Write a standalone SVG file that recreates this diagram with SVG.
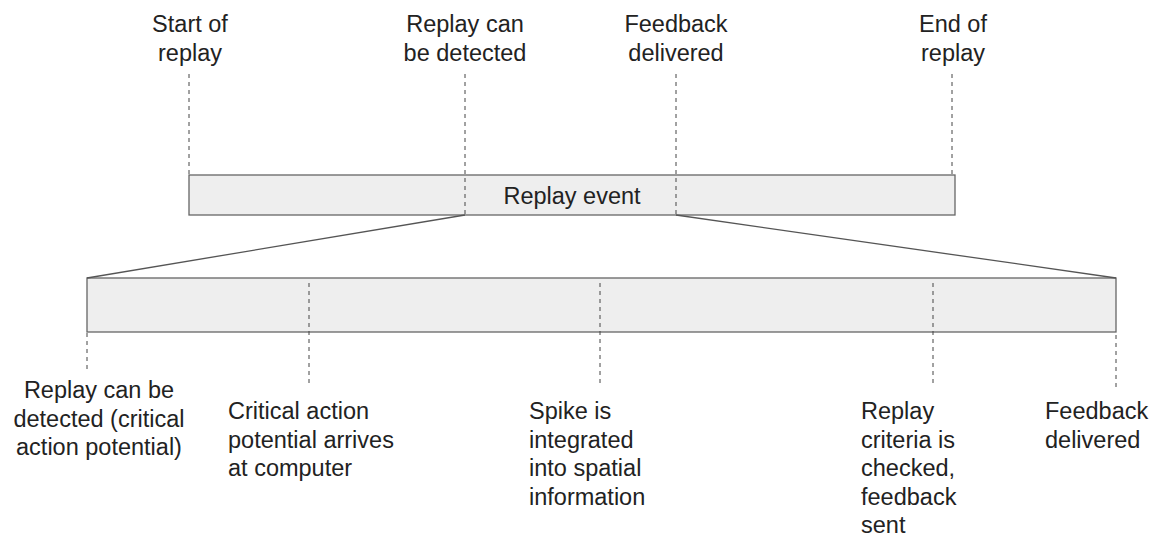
<svg xmlns="http://www.w3.org/2000/svg" width="1156" height="538" viewBox="0 0 1156 538">
<style>
text{font-family:"Liberation Sans",Arial,sans-serif;font-size:23.5px;fill:#222}
.c{text-anchor:middle}
.box{fill:#eeeeee;stroke:#666;stroke-width:1.3}
.dash{stroke:#444;stroke-width:1;stroke-dasharray:4,4;fill:none}
.zoom{stroke:#555;stroke-width:1.3;fill:none}
</style>
<rect width="1156" height="538" fill="#fff"/>
<g id="replay-event">
<rect class="box" x="189" y="175" width="766" height="40"/>
<text class="c" x="572" y="204">Replay event</text>
</g>
<g id="detail-bar">
<rect class="box" x="87" y="278" width="1029" height="54"/>
</g>
<g id="connectors">
<line class="zoom" x1="465" y1="215" x2="87" y2="278"/>
<line class="zoom" x1="676" y1="215" x2="1116" y2="278"/>
<line class="dash" x1="189" y1="74" x2="189" y2="175"/>
<line class="dash" x1="465" y1="74" x2="465" y2="215"/>
<line class="dash" x1="676" y1="74" x2="676" y2="215"/>
<line class="dash" x1="952" y1="74" x2="952" y2="178"/>
<line class="dash" x1="87" y1="333" x2="87" y2="370"/>
<line class="dash" x1="309" y1="283" x2="309" y2="387"/>
<line class="dash" x1="600" y1="283" x2="600" y2="387"/>
<line class="dash" x1="933" y1="283" x2="933" y2="387"/>
<line class="dash" x1="1116" y1="335" x2="1116" y2="387"/>
</g>
<g id="label-start">
<text class="c" x="190" y="32">Start of</text>
<text class="c" x="190" y="61">replay</text>
</g>
<g id="label-detect">
<text class="c" x="465" y="32">Replay can</text>
<text class="c" x="465" y="61">be detected</text>
</g>
<g id="label-feedback">
<text class="c" x="676" y="32">Feedback</text>
<text class="c" x="676" y="61">delivered</text>
</g>
<g id="label-end">
<text class="c" x="953" y="32">End of</text>
<text class="c" x="953" y="61">replay</text>
</g>
<g id="label-b1">
<text class="c" x="99" y="398">Replay can be</text>
<text class="c" x="99" y="426.5">detected (critical</text>
<text class="c" x="99" y="455">action potential)</text>
</g>
<g id="label-b2">
<text x="228" y="419">Critical action</text>
<text x="228" y="447.5">potential arrives</text>
<text x="228" y="476">at computer</text>
</g>
<g id="label-b3">
<text x="529" y="419">Spike is</text>
<text x="529" y="447.5">integrated</text>
<text x="529" y="476">into spatial</text>
<text x="529" y="504.5">information</text>
</g>
<g id="label-b4">
<text x="861" y="419">Replay</text>
<text x="861" y="447.5">criteria is</text>
<text x="861" y="476">checked,</text>
<text x="861" y="504.5">feedback</text>
<text x="861" y="533">sent</text>
</g>
<g id="label-b5">
<text x="1045" y="419">Feedback</text>
<text x="1045" y="447.5">delivered</text>
</g>
</svg>
